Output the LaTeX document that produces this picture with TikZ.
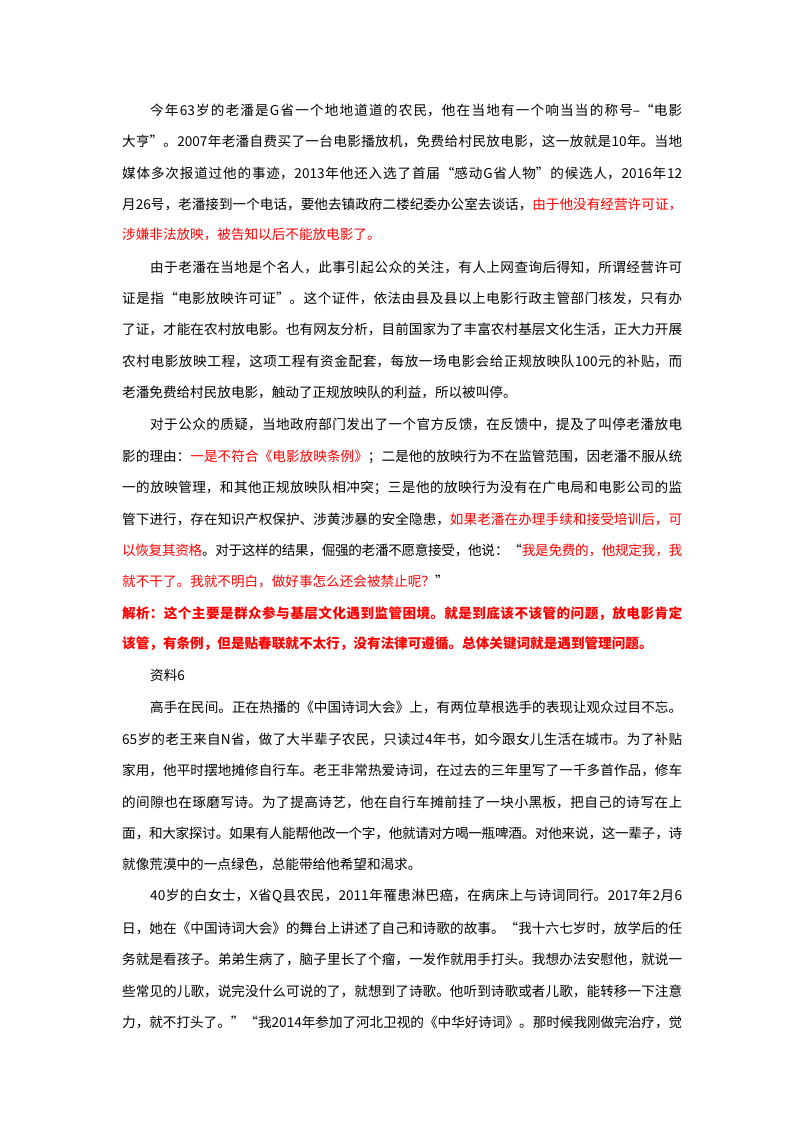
\documentclass[tikz,border=0pt]{standalone}
\usepackage{fontspec}
\setmainfont{Noto Sans CJK SC}
\XeTeXlinebreaklocale "zh"
\XeTeXlinebreakskip=0pt plus 3pt minus 1.2pt
\tolerance=10000
\newcommand{\FL}[3]{\node[anchor=base west,inner sep=0pt] at (#1,#2) {\parbox{\dimexpr682pt-#1pt\relax}{\parfillskip=0pt\relax\leavevmode #3}};}
\newcommand{\PL}[3]{\node[anchor=base west,inner sep=0pt] at (#1,#2) {#3};}
\newcommand{\R}[1]{\textcolor{red}{#1}}
\begin{document}
\begin{tikzpicture}[x=1pt,y=-1pt,font=\fontsize{13.6}{16}\selectfont]
\useasboundingbox[fill=white] (0,0) rectangle (800,1132);
\FL{150}{114}{今年63岁的老潘是G省一个地地道道的农民，他在当地有一个响当当的称号--“电影}
\FL{122}{145}{大亨”。2007年老潘自费买了一台电影播放机，免费给村民放电影，这一放就是10年。当地}
\FL{122}{177}{媒体多次报道过他的事迹，2013年他还入选了首届“感动G省人物”的候选人，2016年12}
\FL{122}{208}{月26号，老潘接到一个电话，要他去镇政府二楼纪委办公室去谈话，\R{由于他没有经营许可证，}}
\PL{122}{239}{\R{涉嫌非法放映，被告知以后不能放电影了。}}
\FL{150}{271}{由于老潘在当地是个名人，此事引起公众的关注，有人上网查询后得知，所谓经营许可}
\FL{122}{302}{证是指“电影放映许可证”。这个证件，依法由县及县以上电影行政主管部门核发，只有办}
\FL{122}{333}{了证，才能在农村放电影。也有网友分析，目前国家为了丰富农村基层文化生活，正大力开展}
\FL{122}{365}{农村电影放映工程，这项工程有资金配套，每放一场电影会给正规放映队100元的补贴，而}
\PL{122}{397}{老潘免费给村民放电影，触动了正规放映队的利益，所以被叫停。}
\FL{150}{428}{对于公众的质疑，当地政府部门发出了一个官方反馈，在反馈中，提及了叫停老潘放电}
\FL{122}{460}{影的理由：\R{一是不符合《电影放映条例》}；二是他的放映行为不在监管范围，因老潘不服从统}
\FL{122}{491}{一的放映管理，和其他正规放映队相冲突；三是他的放映行为没有在广电局和电影公司的监}
\FL{122}{523}{管下进行，存在知识产权保护、涉黄涉暴的安全隐患，\R{如果老潘在办理手续和接受培训后，可}}
\FL{122}{554}{\R{以恢复其资格}。对于这样的结果，倔强的老潘不愿意接受，他说：“\R{我是免费的，他规定我，我}}
\PL{122}{586}{\R{就不干了。我就不明白，做好事怎么还会被禁止呢？}”}
\FL{122}{617}{\bfseries\R{解析：这个主要是群众参与基层文化遇到监管困境。就是到底该不该管的问题，放电影肯定}}
\PL{122}{648}{\bfseries\R{该管，有条例，但是贴春联就不太行，没有法律可遵循。总体关键词就是遇到管理问题。}}
\PL{150}{680}{资料6}
\FL{150}{711}{高手在民间。正在热播的《中国诗词大会》上，有两位草根选手的表现让观众过目不忘。}
\FL{122}{743}{65岁的老王来自N省，做了大半辈子农民，只读过4年书，如今跟女儿生活在城市。为了补贴}
\FL{122}{774}{家用，他平时摆地摊修自行车。老王非常热爱诗词，在过去的三年里写了一千多首作品，修车}
\FL{122}{806}{的间隙也在琢磨写诗。为了提高诗艺，他在自行车摊前挂了一块小黑板，把自己的诗写在上}
\FL{122}{837}{面，和大家探讨。如果有人能帮他改一个字，他就请对方喝一瓶啤酒。对他来说，这一辈子，诗}
\PL{122}{869}{就像荒漠中的一点绿色，总能带给他希望和渴求。}
\FL{150}{900}{40岁的白女士，X省Q县农民，2011年罹患淋巴癌，在病床上与诗词同行。2017年2月6}
\FL{122}{932}{日，她在《中国诗词大会》的舞台上讲述了自己和诗歌的故事。“我十六七岁时，放学后的任}
\FL{122}{963}{务就是看孩子。弟弟生病了，脑子里长了个瘤，一发作就用手打头。我想办法安慰他，就说一}
\FL{122}{995}{些常见的儿歌，说完没什么可说的了，就想到了诗歌。他听到诗歌或者儿歌，能转移一下注意}
\FL{122}{1026}{力，就不打头了。”“我2014年参加了河北卫视的《中华好诗词》。那时候我刚做完治疗，觉}
\end{tikzpicture}
\end{document}
